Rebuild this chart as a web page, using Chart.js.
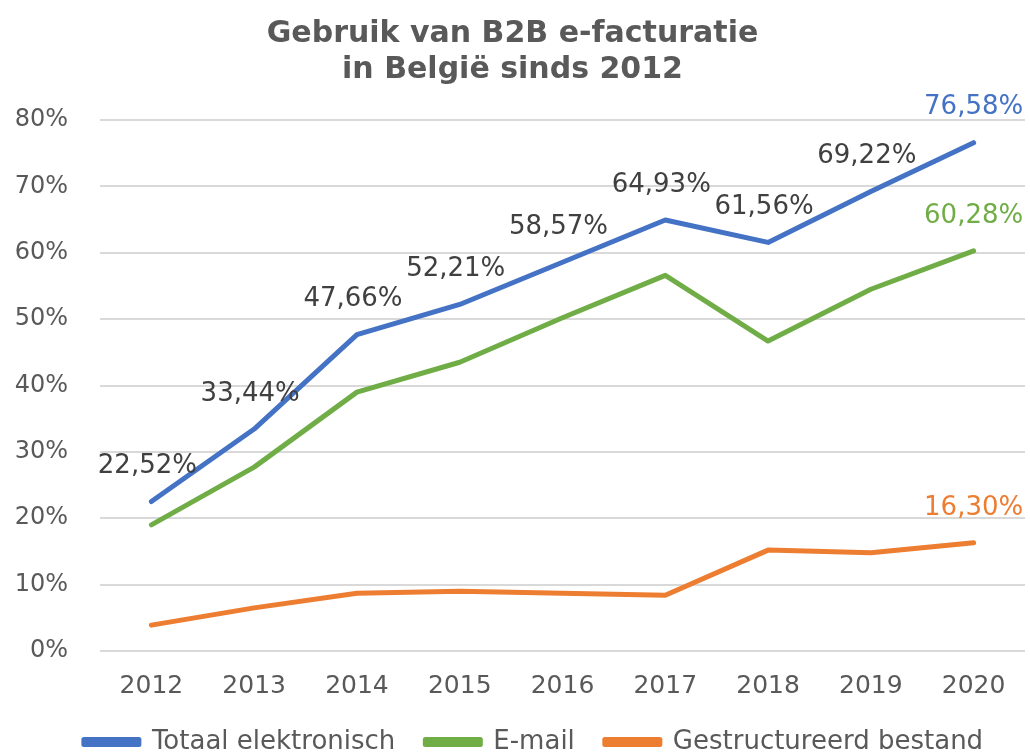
<!DOCTYPE html>
<html>
<head>
<meta charset="utf-8">
<script src="https://cdn.jsdelivr.net/npm/chart.js@4"></script>
<style>
  html, body { margin: 0; padding: 0; background: #fff; overflow: hidden; }
  #wrap { width: 1030px; height: 765px; }
</style>
</head>
<body>
<div id="wrap"><canvas id="chart-area"></canvas></div>
<script>
var years = ['2012', '2013', '2014', '2015', '2016', '2017', '2018', '2019', '2020'];
var totaal = [22.52, 33.44, 47.66, 52.21, 58.57, 64.93, 61.56, 69.22, 76.58];
var email = [19.0, 27.7, 39.0, 43.5, 50.2, 56.6, 46.7, 54.5, 60.28];
var gestructureerd = [3.9, 6.5, 8.7, 9.0, 8.7, 8.4, 15.2, 14.8, 16.30];
var yTicks = [0, 10, 20, 30, 40, 50, 60, 70, 80];

var chartColors = {
  blue: '#4472C4',
  green: '#70AD47',
  orange: '#ED7D31',
  text: '#595959',
  label: '#404040',
  grid: '#d9d9d9'
};

function fmt(v) {
  return v.toFixed(2).replace('.', ',') + '%';
}

// value labels: which points get one and in what colour
var labelPlugin = {
  id: 'valueLabels',
  afterDatasetsDraw: function(chart) {
    var ctx = chart.ctx;
    ctx.save();
    ctx.font = '26px "DejaVu Sans"';
    ctx.textAlign = 'center';
    ctx.textBaseline = 'middle';
    chart.data.datasets.forEach(function(ds, di) {
      var meta = chart.getDatasetMeta(di);
      meta.data.forEach(function(pt, i) {
        var last = i === ds.data.length - 1;
        if (!ds.labelAll && !last) return;
        ctx.fillStyle = last ? ds.borderColor : chartColors.label;
        var dx = last ? 0 : -4;
        ctx.fillText(fmt(ds.data[i]), pt.x + dx, pt.y - 35);
      });
    });
    ctx.restore();
  }
};

// legend in the original sits a bit right of centre
var legendShift = {
  id: 'legendShift',
  afterLayout: function(chart) {
    if (!chart.legend) return;
    chart.legend.left += 21;
    chart.legend.right += 21;
  }
};

var config = {
  type: 'line',
  data: {
    labels: years,
    datasets: [{
      label: 'Totaal elektronisch',
      data: totaal,
      borderColor: chartColors.blue,
      backgroundColor: chartColors.blue,
      labelAll: true
    }, {
      label: 'E-mail',
      data: email,
      borderColor: chartColors.green,
      backgroundColor: chartColors.green
    }, {
      label: 'Gestructureerd bestand',
      data: gestructureerd,
      borderColor: chartColors.orange,
      backgroundColor: chartColors.orange
    }]
  },
  options: {
    responsive: true,
    maintainAspectRatio: false,
    animation: false,
    devicePixelRatio: 1,
    elements: {
      line: { borderWidth: 5, tension: 0, borderCapStyle: 'round', borderJoinStyle: 'round' },
      point: { radius: 0, hoverRadius: 0 }
    },
    layout: { padding: { left: 0, right: 5, top: 0, bottom: 0 } },
    plugins: {
      title: {
        display: true,
        text: ['Gebruik van B2B e-facturatie', 'in België sinds 2012'],
        color: chartColors.text,
        font: { family: '"DejaVu Sans"', size: 30, weight: 'bold', lineHeight: 1.2 },
        padding: { top: 16, bottom: 32 }
      },
      legend: {
        position: 'bottom',
        labels: {
          color: chartColors.text,
          font: { family: '"DejaVu Sans"', size: 26 },
          boxWidth: 55,
          boxHeight: 5,
          padding: 30
        }
      },
      tooltip: { enabled: false }
    },
    scales: {
      x: {
        offset: true,
        grid: { display: false },
        border: { display: false },
        afterFit: function(axis) { axis.height = 48; },
        ticks: {
          color: chartColors.text,
          font: { family: '"DejaVu Sans"', size: 25 },
          padding: 12
        }
      },
      y: {
        min: 0,
        max: 80,
        afterBuildTicks: function(axis) {
          axis.ticks = yTicks.map(function(v) { return { value: v }; });
        },
        afterFit: function(axis) { axis.width = 100; },
        grid: { color: chartColors.grid, lineWidth: 2, drawTicks: false },
        border: { display: false },
        ticks: {
          color: chartColors.text,
          font: { family: '"DejaVu Sans"', size: 24 },
          padding: 32,
          callback: function(v) { return v + '%'; }
        }
      }
    }
  },
  plugins: [labelPlugin, legendShift]
};

window.onload = function() {
  var ctx = document.getElementById('chart-area').getContext('2d');
  window.myLine = new Chart(ctx, config);
};
</script>
</body>
</html>
